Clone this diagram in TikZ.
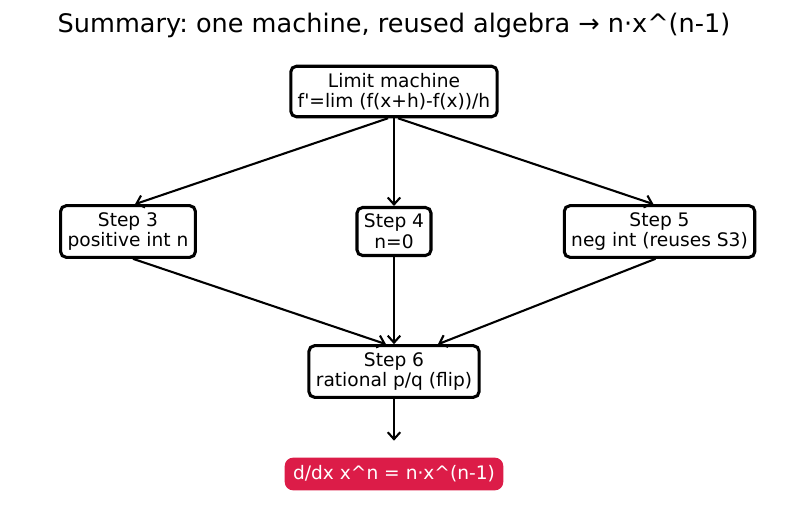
\documentclass[tikz,border=0pt]{standalone}
\usepackage{fontspec}
\setmainfont{DejaVu Sans}
\usepackage{tikz}
\usepackage{xcolor}
\usetikzlibrary{arrows.meta,calc}
\frenchspacing

\definecolor{resred}{HTML}{DC1C48}

\tikzset{
    stepbox/.style={draw,line width=2.2pt,rounded corners=4pt,fill=white,align=center,
        inner xsep=5pt,inner ysep=4.8pt,font=\fontsize{13.4}{14.8}\selectfont},
    flow/.style={-{Straight Barb[length=5pt,width=9pt]},line width=1.5pt},
}

\begin{document}
\begin{tikzpicture}[x=0.72pt,y=-0.72pt]
    \useasboundingbox (0,0) rectangle (787,512);
    % title
    \node (title) at (394,25) {\fontsize{18.4}{22}\selectfont Summary: one machine, reused algebra → n·x\textasciicircum(n-1)};
    % boxes
    \node [stepbox] (lim) at (394,91.5) {Limit machine\\f\textquotesingle=lim (f(x+h)-f(x))/h};
    \node [stepbox] (s3) at (128,231.5) {Step 3\\positive int n};
    \node [stepbox] (s4) at (394,231.5) {Step 4\\n=0};
    \node [stepbox] (s5) at (659.5,231.5) {Step 5\\neg int (reuses S3)};
    \node [stepbox] (s6) at (394,371.5) {Step 6\\rational p/q (flip)};
    \node [fill=resred,text=white,rounded corners=6pt,inner xsep=6pt,inner ysep=5.8pt,
        font=\fontsize{13.4}{15.2}\selectfont] (res) at (394,474) {d/dx x\textasciicircum n = n·x\textasciicircum(n-1)};
    % arrows
    \draw [flow] ($(lim.south)+(-6,0)$) -- ($(s3.north)+(7,0)$);
    \draw [flow] (lim.south) -- (s4.north);
    \draw [flow] ($(lim.south)+(4,0)$) -- ($(s5.north)+(-6,0)$);
    \draw [flow] ($(s3.south)+(5,0)$) -- ($(s6.north)+(-8,0)$);
    \draw [flow] (s4.south) -- (s6.north);
    \draw [flow] ($(s5.south)+(-4,0)$) -- ($(s6.north)+(44,0)$);
    \draw [flow,shorten >=12pt] (s6.south) -- (res.north);
\end{tikzpicture}
\end{document}
